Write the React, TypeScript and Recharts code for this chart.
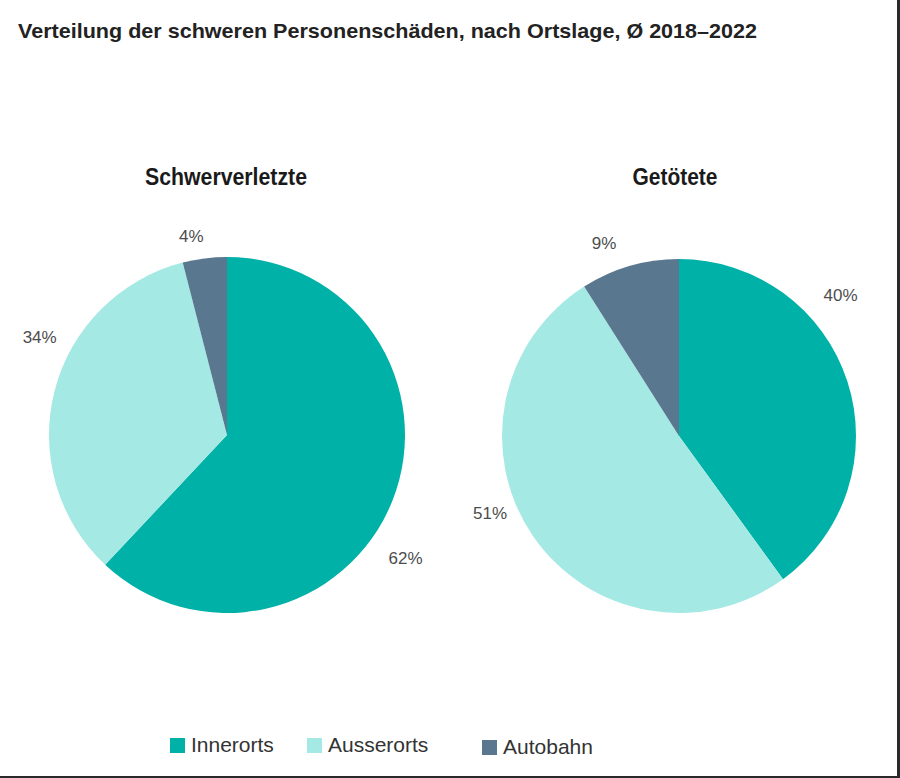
import React from 'react';
import { PieChart, Pie, Cell, Legend } from 'recharts';

const CATEGORIES = ['Innerorts', 'Ausserorts', 'Autobahn'];
const SCHWERVERLETZTE = [62, 34, 4];
const GETOETETE = [40, 51, 9];
const COLORS = ['#00B1A8', '#A5E9E4', '#5A7790'];

const TITLE = 'Verteilung der schweren Personenschäden, nach Ortslage, Ø 2018–2022';
const LEFT_TITLE = 'Schwerverletzte';
const RIGHT_TITLE = 'Getötete';

// label placement tweaks (angle shift in degrees, radial gap in px)
const LEFT_LABEL_SHIFT = [13, 13, -3];
const LEFT_LABEL_GAP = [39, 33, 24];
const RIGHT_LABEL_SHIFT = [-23, 12, -5];
const RIGHT_LABEL_GAP = [37, 27, 30];

const leftData = CATEGORIES.map((name, i) => ({ name, value: SCHWERVERLETZTE[i] }));
const rightData = CATEGORIES.map((name, i) => ({ name, value: GETOETETE[i] }));

const makeLabel = (shift: number[], gap: number[]) => (props: any) => {
  const { cx, cy, midAngle, outerRadius, index, value } = props;
  const theta = ((90 - midAngle + shift[index]) * Math.PI) / 180;
  const d = outerRadius + gap[index];
  const x = cx + d * Math.sin(theta);
  const y = cy - d * Math.cos(theta);
  return (
    <text
      key={`l-${index}`}
      x={x}
      y={y}
      textAnchor="middle"
      dominantBaseline="central"
      fontFamily="'Liberation Sans', Arial, sans-serif"
      fontSize={17}
      fill="#4d4d4d"
    >
      {`${value}%`}
    </text>
  );
};

const legendContent = () => (
  <div style={{ position: 'relative', width: 900, height: 30, fontFamily: "'Liberation Sans', Arial, sans-serif", fontSize: 21, color: '#333' }}>
    {CATEGORIES.map((c, i) => {
      const lefts = [170, 307, 482];
      const tops = [0, 0, 2];
      return (
        <div key={c} style={{ position: 'absolute', left: lefts[i], top: tops[i], display: 'flex', alignItems: 'center', whiteSpace: 'nowrap' }}>
          <span style={{ display: 'inline-block', width: 15, height: 15, background: COLORS[i], marginRight: 6 }} />
          <span>{c}</span>
        </div>
      );
    })}
  </div>
);

export default function App() {
  return (
    <div
      style={{
        position: 'absolute',
        left: 0,
        top: 0,
        width: 900,
        height: 778,
        background: '#fff',
        boxSizing: 'border-box',
        borderRight: '3px solid #2a2a2a',
        borderBottom: '2px solid #2a2a2a',
        overflow: 'hidden',
      }}
    >
      <PieChart width={897} height={776} margin={{ top: 0, right: 0, bottom: 0, left: 0 }}>
        <text
          x={18}
          y={38}
          textLength={739}
          lengthAdjust="spacingAndGlyphs"
          fontFamily="'Liberation Sans', Arial, sans-serif"
          fontWeight="bold"
          fontSize={21}
          fill="#222"
        >
          {TITLE}
        </text>
        <text
          x={226}
          y={185}
          textAnchor="middle"
          textLength={162}
          lengthAdjust="spacingAndGlyphs"
          fontFamily="'Liberation Sans', Arial, sans-serif"
          fontWeight="bold"
          fontSize={24}
          fill="#1a1a1a"
        >
          {LEFT_TITLE}
        </text>
        <text
          x={675}
          y={185}
          textAnchor="middle"
          textLength={85}
          lengthAdjust="spacingAndGlyphs"
          fontFamily="'Liberation Sans', Arial, sans-serif"
          fontWeight="bold"
          fontSize={24}
          fill="#1a1a1a"
        >
          {RIGHT_TITLE}
        </text>
        <Pie
          data={leftData}
          dataKey="value"
          nameKey="name"
          cx={227}
          cy={435}
          outerRadius={178}
          startAngle={90}
          endAngle={-270}
          stroke="none"
          labelLine={false}
          label={makeLabel(LEFT_LABEL_SHIFT, LEFT_LABEL_GAP)}
          isAnimationActive={false}
        >
          {leftData.map((d, i) => (
            <Cell key={d.name} fill={COLORS[i]} />
          ))}
        </Pie>
        <Pie
          data={rightData}
          dataKey="value"
          nameKey="name"
          cx={679}
          cy={436}
          outerRadius={177}
          startAngle={90}
          endAngle={-270}
          stroke="none"
          labelLine={false}
          label={makeLabel(RIGHT_LABEL_SHIFT, RIGHT_LABEL_GAP)}
          isAnimationActive={false}
        >
          {rightData.map((d, i) => (
            <Cell key={d.name} fill={COLORS[i]} />
          ))}
        </Pie>
        <Legend
          content={legendContent}
          wrapperStyle={{ position: 'absolute', left: 0, top: 733, width: 900, height: 30 }}
        />
      </PieChart>
    </div>
  );
}
